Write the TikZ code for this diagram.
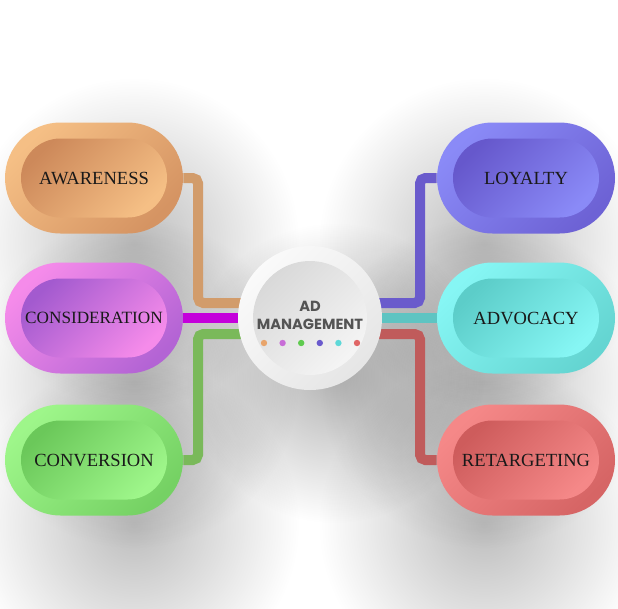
\documentclass[tikz,border=0pt]{standalone}
\usepackage{fontspec}
\setmainfont{Liberation Serif}
\newfontfamily\hubfont{Poppins}
\usetikzlibrary{shapes.misc,fadings,calc}

\definecolor{awlight}{HTML}{F5BF85}
\definecolor{awdark}{HTML}{CD895A}
\definecolor{colight}{HTML}{F58BEA}
\definecolor{codark}{HTML}{A35ACF}
\definecolor{cvlight}{HTML}{9EF68A}
\definecolor{cvdark}{HTML}{6BC85A}
\definecolor{lylight}{HTML}{8A8AF7}
\definecolor{lydark}{HTML}{6658CC}
\definecolor{adlight}{HTML}{86F6F4}
\definecolor{addark}{HTML}{5CCDC9}
\definecolor{rtlight}{HTML}{F58888}
\definecolor{rtdark}{HTML}{CE5C5C}

\definecolor{lkorange}{HTML}{D29C6B}
\definecolor{lkmagenta}{HTML}{C400DB}
\definecolor{lkgreen}{HTML}{7AB95A}
\definecolor{lkpurple}{HTML}{6A5BCC}
\definecolor{lkteal}{HTML}{5EC4C2}
\definecolor{lkred}{HTML}{C05B5B}

\definecolor{dotorange}{HTML}{E8A46B}
\definecolor{dotviolet}{HTML}{C86DD7}
\definecolor{dotgreen}{HTML}{5FCB4F}
\definecolor{dotblue}{HTML}{6A5ACD}
\definecolor{dotcyan}{HTML}{5ED8D8}
\definecolor{dotred}{HTML}{E06666}

\pgfdeclarelayer{shadow}
\pgfdeclarelayer{links}
\pgfsetlayers{shadow,links,main}

\tikzfading[name=softfade, inner color=transparent!0, outer color=transparent!100]

\tikzset{
  pill/.style={rounded rectangle, minimum width=133.5pt, minimum height=83.25pt, inner sep=0pt},
  inpill/.style={rounded rectangle, minimum width=109.5pt, minimum height=59.25pt, inner sep=0pt,
    font=\fontsize{13.9}{16}\selectfont, text=black!90, text depth=0pt},
  link/.style={line width=7.5pt, rounded corners=4pt},
  blob/.style={fill=black, opacity=0.26, path fading=softfade},
  dot/.style={circle, inner sep=0pt, minimum size=4.8pt},
}

\begin{document}
\begin{tikzpicture}[x=0.75pt, y=-0.75pt]
  \useasboundingbox (0,0) rectangle (618,608);

  % left column
  \node[pill, top color=awlight, bottom color=awdark!80!awlight, shading angle=45] (aware) at (94,178) {};
  \node[inpill, top color=awdark, bottom color=awlight, shading angle=45] (awaretxt) at (aware) {AWARENESS};
  \node[pill, top color=colight, bottom color=codark!80!colight, shading angle=45] (consid) at (94,318) {};
  \node[inpill, top color=codark, bottom color=colight, shading angle=45, font=\fontsize{12.9}{15}\selectfont] (considtxt) at (consid) {CONSIDERATION};
  \node[pill, top color=cvlight, bottom color=cvdark!80!cvlight, shading angle=45] (conv) at (94,460) {};
  \node[inpill, top color=cvdark, bottom color=cvlight, shading angle=45] (convtxt) at (conv) {CONVERSION};

  % right column
  \node[pill, top color=lylight, bottom color=lydark!80!lylight, shading angle=45] (loyal) at (526,178) {};
  \node[inpill, top color=lydark, bottom color=lylight, shading angle=45] (loyaltxt) at (loyal) {LOYALTY};
  \node[pill, top color=adlight, bottom color=addark!80!adlight, shading angle=45] (advoc) at (526,318) {};
  \node[inpill, top color=addark, bottom color=adlight, shading angle=45] (advoctxt) at (advoc) {ADVOCACY};
  \node[pill, top color=rtlight, bottom color=rtdark!80!rtlight, shading angle=45] (retarg) at (526,460) {};
  \node[inpill, top color=rtdark, bottom color=rtlight, shading angle=45] (retargtxt) at (retarg) {RETARGETING};

  % hub
  \node[circle, minimum size=108pt, inner sep=0pt, top color=black!2, bottom color=black!10, shading angle=45] (hub) at (310,318) {};
  \node[circle, minimum size=85.5pt, inner sep=0pt, top color=black!15, bottom color=black!4, shading angle=45] (hubin) at (hub) {};
  \node[font=\hubfont\bfseries\fontsize{11}{13.5}\selectfont, text=black!67, align=center] (hubtxt) at (310,315) {AD\\MANAGEMENT};
  \foreach \c [count=\i] in {dotorange,dotviolet,dotgreen,dotblue,dotcyan,dotred}
    \node[dot, fill=\c] (dot\i) at ({245.4+18.6*\i},343) {};

  \begin{pgfonlayer}{links}
    \draw[link, lkorange] (aware.east) -| ($(hub)+(-112,-15)$) -- ($(hub)+(-60,-15)$);
    \draw[link, lkmagenta] (consid.east) -- ($(hub)+(-60,0)$);
    \draw[link, lkgreen] (conv.east) -| ($(hub)+(-112,16)$) -- ($(hub)+(-60,16)$);
    \draw[link, lkpurple] (loyal.west) -| ($(hub)+(110,-15)$) -- ($(hub)+(60,-15)$);
    \draw[link, lkteal] (advoc.west) -- ($(hub)+(60,0)$);
    \draw[link, lkred] (retarg.west) -| ($(hub)+(110,16)$) -- ($(hub)+(60,16)$);
  \end{pgfonlayer}

  \begin{pgfonlayer}{shadow}
    \fill[white] (0,0) rectangle (618,608);
    \fill[blob] ($(aware)+(40,65)$) circle (165);
    \fill[blob] ($(consid)+(40,65)$) circle (165);
    \fill[blob] ($(conv)+(40,65)$) circle (165);
    \fill[blob] ($(loyal)+(-42,65)$) circle (165);
    \fill[blob] ($(advoc)+(-42,65)$) circle (165);
    \fill[blob] ($(retarg)+(-42,65)$) circle (165);
    \fill[blob, opacity=0.3] ($(hub)+(25,55)$) circle (150);
  \end{pgfonlayer}
\end{tikzpicture}
\end{document}
